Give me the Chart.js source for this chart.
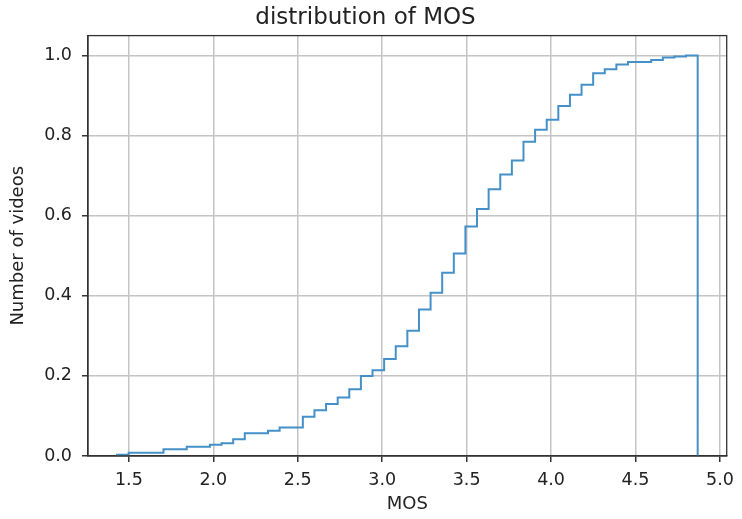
<!DOCTYPE html>
<html>
<head>
<meta charset="utf-8">
<script src="https://cdn.jsdelivr.net/npm/chart.js@4.4.0/dist/chart.umd.min.js"></script>
<style>
  html, body { margin: 0; padding: 0; background: #fff; }
  #wrap { width: 742px; height: 519px; }
</style>
</head>
<body>
<div id="wrap"><canvas id="chart" width="742" height="519"></canvas></div>
<script>
// MOS range covered by the histogram and how many bins it has
const mosMin = 1.43;
const mosMax = 4.868;
const binCount = 50;

// cumulative share of videos at each bin (normalised, ends at 1)
const cumulative = [
    0.003, 0.008, 0.008, 0.008, 0.017, 0.017, 0.023, 0.023, 0.028, 0.032,
    0.042, 0.057, 0.057, 0.063, 0.071, 0.071, 0.098, 0.114, 0.130, 0.146,
    0.167, 0.200, 0.214, 0.242, 0.274, 0.313, 0.366, 0.408, 0.458, 0.506,
    0.573, 0.617, 0.666, 0.703, 0.738, 0.785, 0.815, 0.840, 0.874, 0.902,
    0.927, 0.956, 0.966, 0.978, 0.984, 0.984, 0.989, 0.995, 0.998, 1.000
];

// tick values for both axes
const xTicks = [1.5, 2.0, 2.5, 3.0, 3.5, 4.0, 4.5, 5.0];
const yTicks = [0.0, 0.2, 0.4, 0.6, 0.8, 1.0];

// bin edges, same way numpy splits the range
const binWidth = (mosMax - mosMin) / binCount;
const edges = [];
for (let i = 0; i <= binCount; i++) {
    edges.push(mosMin + i * binWidth);
}

// outline of the step histogram: up from 0, along each bin, back down at the end
const stepPoints = [{ x: edges[0], y: 0 }];
cumulative.forEach((v, i) => {
    stepPoints.push({ x: edges[i], y: v });
});
stepPoints.push({ x: edges[binCount], y: 0 });

// axis limits with a 5% margin on x like matplotlib
const xPad = (mosMax - mosMin) * 0.05;

Chart.defaults.font.family = "'DejaVu Sans', sans-serif";
Chart.defaults.color = '#222';

// draw a box round the plot area
const frame = {
    id: 'frame',
    afterDatasetsDraw(chart) {
        const { ctx, chartArea } = chart;
        ctx.save();
        ctx.strokeStyle = '#333';
        ctx.lineWidth = 1.3;
        ctx.strokeRect(chartArea.left, chartArea.top,
            chartArea.right - chartArea.left, chartArea.bottom - chartArea.top);
        ctx.restore();
    }
};

const myChart = document.getElementById('chart');

let chart = new Chart(myChart, {
    type: 'line',
    data: {
        datasets: [{
            data: stepPoints,
            stepped: 'before',
            borderColor: '#4490c8',
            borderWidth: 2,
            pointRadius: 0,
            fill: false
        }]
    },
    options: {
        responsive: false,
        animation: false,
        devicePixelRatio: 1,
        layout: {
            autoPadding: false,
            padding: { left: 0, right: 11, top: 0, bottom: 0 }
        },
        plugins: {
            legend: { display: false },
            tooltip: { enabled: false },
            title: {
                display: true,
                text: 'distribution of MOS',
                font: { size: 23, weight: 'normal' },
                color: '#222',
                padding: { top: 4, bottom: 4 }
            }
        },
        scales: {
            x: {
                type: 'linear',
                min: mosMin - xPad,
                max: mosMax + xPad,
                afterBuildTicks: (scale) => {
                    scale.ticks = xTicks.map(v => ({ value: v }));
                },
                afterFit: (scale) => { scale.height = 63; },
                ticks: {
                    font: { size: 17.5 },
                    padding: 8,
                    maxRotation: 0,
                    callback: (v) => v.toFixed(1)
                },
                grid: {
                    color: '#c4c4c4',
                    lineWidth: 1.5,
                    tickColor: '#333',
                    tickLength: 6
                },
                border: { color: '#333', width: 1.3 },
                title: {
                    display: true,
                    text: 'MOS',
                    font: { size: 18 },
                    padding: { top: 0, bottom: 4 }
                }
            },
            y: {
                type: 'linear',
                min: 0,
                max: 1.05,
                afterBuildTicks: (scale) => {
                    scale.ticks = yTicks.map(v => ({ value: v }));
                },
                afterFit: (scale) => { scale.width = 88; },
                ticks: {
                    font: { size: 17.5 },
                    padding: 10,
                    callback: (v) => v.toFixed(1)
                },
                grid: {
                    color: '#c4c4c4',
                    lineWidth: 1.5,
                    tickColor: '#333',
                    tickLength: 6
                },
                border: { color: '#333', width: 1.3 },
                title: {
                    display: true,
                    text: 'Number of videos',
                    font: { size: 18 },
                    padding: { top: 8, bottom: 0 }
                }
            }
        }
    },
    plugins: [frame]
});
</script>
</body>
</html>
